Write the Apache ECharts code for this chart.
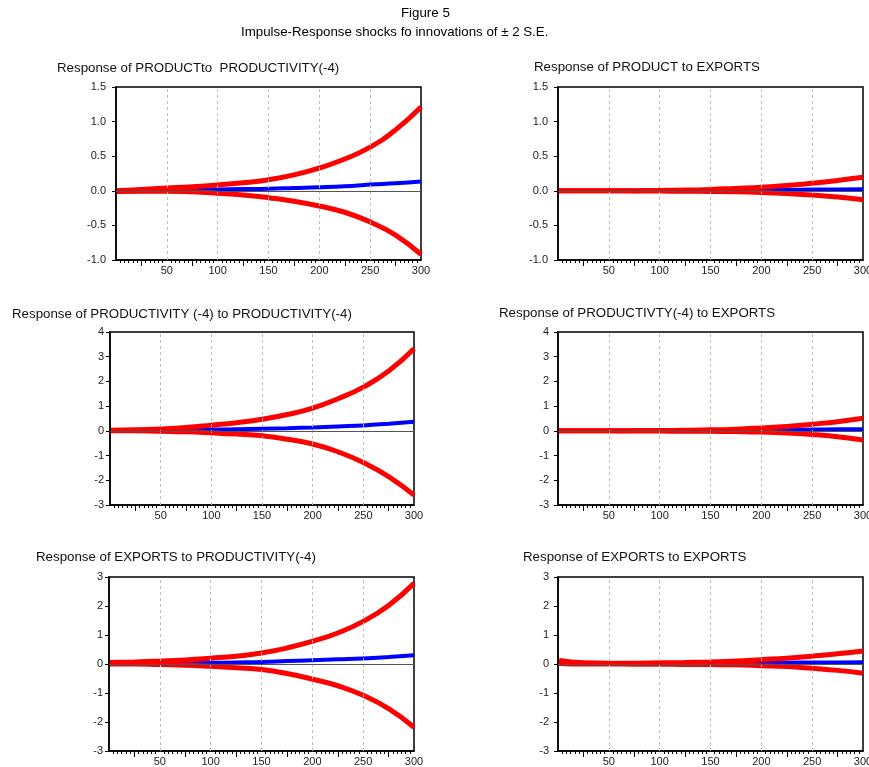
<!DOCTYPE html>
<html>
<head>
<meta charset="utf-8">
<title>Figure 5</title>
<script src="https://cdn.jsdelivr.net/npm/echarts@6/dist/echarts.min.js"></script>
<style>
  html, body { margin: 0; padding: 0; background: #fff; }
  #chart { width: 869px; height: 767px; }
</style>
</head>
<body>
<div id="chart"></div>
<script>
const periods = [1, 25, 50, 75, 100, 125, 150, 175, 200, 225, 250, 275, 300]
const gridLines = [50, 100, 150, 200, 250]
const majorTicks = [25, 75, 125, 175, 225, 275]
const xLabels = [50, 100, 150, 200, 250, 300]

const figureTitle = 'Figure 5'
const figureSubtitle = 'Impulse-Response shocks fo innovations of ± 2 S.E.'

const panelTitles = [
  'Response of PRODUCTto  PRODUCTIVITY(-4)',
  'Response of PRODUCT to EXPORTS',
  'Response of PRODUCTIVITY (-4) to PRODUCTIVITY(-4)',
  'Response of PRODUCTIVTY(-4) to EXPORTS',
  'Response of EXPORTS to PRODUCTIVITY(-4)',
  'Response of EXPORTS to EXPORTS'
]

// y axis ranges [min, max, step]
const yRanges = [
  [-1, 1.5, 0.5],
  [-1, 1.5, 0.5],
  [-3, 4, 1],
  [-3, 4, 1],
  [-3, 3, 1],
  [-3, 3, 1]
]

// +2 S.E. band
const p1Upper = [0.0, 0.02, 0.04, 0.06, 0.085, 0.115, 0.16, 0.23, 0.33, 0.46, 0.63, 0.88, 1.21]
const p2Upper = [0.0, 0.0, 0.0, 0.002, 0.005, 0.01, 0.02, 0.035, 0.05, 0.075, 0.11, 0.15, 0.195]
const p3Upper = [0.02, 0.04, 0.08, 0.14, 0.23, 0.33, 0.47, 0.66, 0.92, 1.3, 1.77, 2.42, 3.32]
const p4Upper = [0.0, 0.0, 0.0, 0.01, 0.015, 0.025, 0.04, 0.07, 0.12, 0.18, 0.27, 0.37, 0.51]
const p5Upper = [0.05, 0.07, 0.1, 0.14, 0.2, 0.27, 0.38, 0.55, 0.78, 1.07, 1.47, 2.02, 2.78]
const p6Upper = [0.12, 0.04, 0.03, 0.03, 0.04, 0.05, 0.07, 0.1, 0.15, 0.2, 0.27, 0.35, 0.45]

// point response
const p1Mid = [0.0, 0.005, 0.01, 0.015, 0.02, 0.025, 0.03, 0.04, 0.05, 0.065, 0.09, 0.11, 0.135]
const p2Mid = [0.0, 0.0, 0.0, 0.0, 0.001, 0.002, 0.004, 0.007, 0.01, 0.013, 0.017, 0.02, 0.022]
const p3Mid = [0.01, 0.015, 0.02, 0.035, 0.05, 0.07, 0.09, 0.11, 0.14, 0.18, 0.22, 0.29, 0.37]
const p4Mid = [0.0, 0.0, 0.0, 0.002, 0.004, 0.007, 0.01, 0.02, 0.03, 0.04, 0.05, 0.06, 0.07]
const p5Mid = [0.02, 0.02, 0.02, 0.03, 0.04, 0.055, 0.07, 0.1, 0.13, 0.16, 0.19, 0.24, 0.3]
const p6Mid = [0.05, 0.02, 0.01, 0.01, 0.02, 0.02, 0.03, 0.03, 0.04, 0.045, 0.05, 0.055, 0.06]

// -2 S.E. band
const p1Lower = [-0.01, -0.005, -0.005, -0.015, -0.035, -0.06, -0.1, -0.15, -0.22, -0.31, -0.45, -0.64, -0.92]
const p2Lower = [0.0, 0.0, 0.0, -0.002, -0.004, -0.006, -0.01, -0.015, -0.025, -0.04, -0.06, -0.09, -0.13]
const p3Lower = [0.0, 0.0, -0.02, -0.04, -0.08, -0.13, -0.2, -0.34, -0.53, -0.85, -1.28, -1.85, -2.6]
const p4Lower = [0.0, 0.0, 0.0, -0.005, -0.01, -0.015, -0.02, -0.03, -0.05, -0.09, -0.15, -0.24, -0.37]
const p5Lower = [0.0, 0.0, -0.02, -0.04, -0.08, -0.13, -0.19, -0.33, -0.52, -0.75, -1.08, -1.54, -2.18]
const p6Lower = [0.02, 0.0, 0.0, -0.005, -0.01, -0.015, -0.02, -0.03, -0.06, -0.09, -0.15, -0.22, -0.32]

const uppers = [p1Upper, p2Upper, p3Upper, p4Upper, p5Upper, p6Upper]
const mids = [p1Mid, p2Mid, p3Mid, p4Mid, p5Mid, p6Mid]
const lowers = [p1Lower, p2Lower, p3Lower, p4Lower, p5Lower, p6Lower]

// layout of each panel: plot box, title anchor and y label gap
const layout = [
  { left: 116, top: 87, width: 305, height: 173, titleX: 57, titleY: 68, gap: 10 },
  { left: 558, top: 87, width: 305, height: 173, titleX: 534, titleY: 67, gap: 10 },
  { left: 110, top: 332, width: 304, height: 173, titleX: 12, titleY: 314, gap: 6 },
  { left: 558, top: 332, width: 305, height: 173, titleX: 499, titleY: 313, gap: 9 },
  { left: 109, top: 577, width: 305, height: 174, titleX: 36, titleY: 557, gap: 6 },
  { left: 558, top: 577, width: 305, height: 174, titleX: 523, titleY: 557, gap: 9 }
]

const FONT = '"Liberation Sans", Arial, Helvetica, sans-serif'
const RED = '#ff0000'
const BLUE = '#0000ff'

function pairs(values) {
  return periods.map((p, i) => [p, values[i]])
}

const grids = []
const xAxes = []
const yAxes = []
const series = []
const graphics = [
  { type: 'text', x: 401, y: 13, style: { text: figureTitle, font: `13.3px ${FONT}`, fill: '#000', verticalAlign: 'middle' } },
  { type: 'text', x: 241, y: 32, style: { text: figureSubtitle, font: `13.3px ${FONT}`, fill: '#000', verticalAlign: 'middle' } }
]

layout.forEach((box, i) => {
  const [yMin, yMax, yStep] = yRanges[i]
  const decimals = yStep < 1 ? 1 : 0

  grids.push({
    left: box.left,
    top: box.top,
    width: box.width,
    height: box.height,
    show: true,
    backgroundColor: '#fff',
    borderColor: '#000',
    borderWidth: 1.5,
    containLabel: false,
    outerBoundsMode: 'none'
  })

  xAxes.push({
    type: 'value',
    gridIndex: i,
    min: 0,
    max: 300,
    interval: 25,
    axisLine: { show: true, onZero: false, lineStyle: { color: '#000', width: 1.5 } },
    axisTick: { show: true, length: 6, customValues: majorTicks, lineStyle: { color: '#000' } },
    minorTick: { show: true, splitNumber: 6, length: 3, lineStyle: { color: '#000' } },
    axisLabel: {
      customValues: xLabels,
      margin: 5,
      color: '#222',
      fontSize: 11,
      fontFamily: FONT
    },
    splitLine: { show: false }
  })

  yAxes.push({
    type: 'value',
    gridIndex: i,
    min: yMin,
    max: yMax,
    interval: yStep,
    axisLine: { show: true, onZero: false, lineStyle: { color: '#000', width: 1.5 } },
    axisTick: { show: true, length: 4, lineStyle: { color: '#000' } },
    axisLabel: {
      margin: box.gap,
      color: '#222',
      fontSize: 11,
      fontFamily: FONT,
      formatter: (v) => v.toFixed(decimals)
    },
    splitLine: { show: false }
  })

  // dashed verticals and the zero line
  series.push({
    type: 'line',
    xAxisIndex: i,
    yAxisIndex: i,
    data: [],
    z: 1,
    silent: true,
    markLine: {
      silent: true,
      symbol: ['none', 'none'],
      label: { show: false },
      animation: false,
      data: [
        ...gridLines.map((v) => ({ xAxis: v, lineStyle: { color: '#bdbdbd', type: [3, 3], width: 1 } })),
        { yAxis: 0, lineStyle: { color: '#555', type: 'solid', width: 1.2 } }
      ]
    }
  })

  series.push({
    name: 'Response',
    type: 'line',
    xAxisIndex: i,
    yAxisIndex: i,
    data: pairs(mids[i]),
    showSymbol: false,
    smooth: true,
    z: 2,
    lineStyle: { color: BLUE, width: 4 }
  })

  series.push({
    name: '+2 S.E.',
    type: 'line',
    xAxisIndex: i,
    yAxisIndex: i,
    data: pairs(uppers[i]),
    showSymbol: false,
    smooth: true,
    z: 3,
    lineStyle: { color: RED, width: 5 }
  })

  series.push({
    name: '-2 S.E.',
    type: 'line',
    xAxisIndex: i,
    yAxisIndex: i,
    data: pairs(lowers[i]),
    showSymbol: false,
    smooth: true,
    z: 3,
    lineStyle: { color: RED, width: 5 }
  })

  graphics.push({
    type: 'text',
    x: box.titleX,
    y: box.titleY,
    style: { text: panelTitles[i], font: `13.3px ${FONT}`, fill: '#111', verticalAlign: 'middle' }
  })
})

const chart = echarts.init(document.getElementById('chart'), null, { renderer: 'canvas' })
chart.setOption({
  animation: false,
  backgroundColor: '#fff',
  grid: grids,
  xAxis: xAxes,
  yAxis: yAxes,
  series,
  graphic: graphics
})
</script>
</body>
</html>
